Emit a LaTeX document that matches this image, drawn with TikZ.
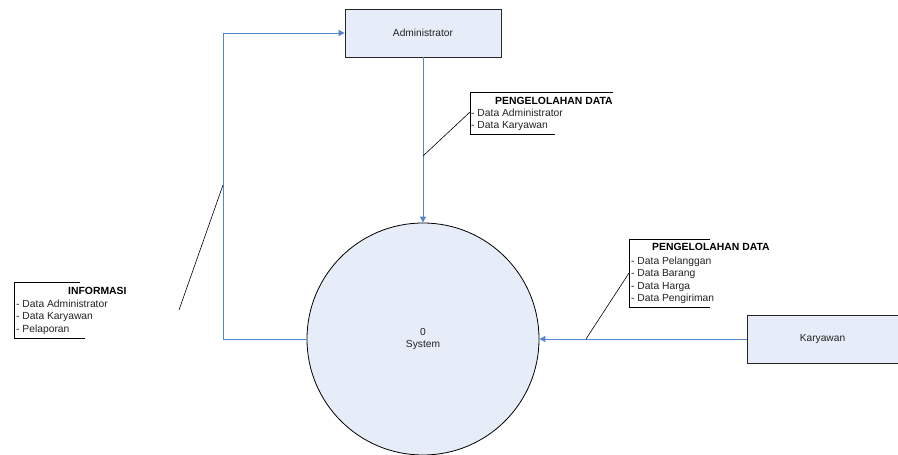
\documentclass[tikz,border=0pt]{standalone}
\usepackage{fontspec}
\setmainfont{Liberation Sans}
\usetikzlibrary{arrows.meta}
\definecolor{boxfill}{HTML}{E7EDF8}
\definecolor{flowblue}{HTML}{5585CA}
\definecolor{txt}{HTML}{222222}
\tikzset{
  entity/.style={draw=black!85, line width=0.8pt, fill=boxfill, rectangle, minimum width=156pt, minimum height=48pt, inner sep=0pt, text=txt, font=\fontsize{10.2}{12}\selectfont},
  proc/.style={draw=black, line width=0.8pt, fill=boxfill, circle, minimum size=232pt, inner sep=0pt, align=center, text=txt, font=\fontsize{10.2}{12.8}\selectfont},
  flow/.style={draw=flowblue, line width=0.9pt, -{Triangle[width=6pt,length=6pt]}},
  note/.style={line width=0.6pt, draw=black},
  lbl/.style={anchor=base west, inner sep=0pt, text=txt, font=\fontsize{10.3}{12}\selectfont},
  hdr/.style={anchor=base west, inner sep=0pt, text=black, font=\fontsize{10.4}{12}\selectfont\bfseries},
}
\begin{document}
\begin{tikzpicture}[x=1pt,y=-1pt]
\useasboundingbox (0,0) rectangle (898,455);
% entities and process
\node[entity] (admin) at (423,33) {Administrator};
\node[entity, minimum width=151pt] (kary) at (822.5,339) {Karyawan};
\node[proc] (sys) at (423,339) {0\\System};
% flows
\coordinate (lc) at (223,339);
\draw[flow] (admin.south) -- (sys.north);
\draw[flow] (kary.west) -- (sys.east);
\draw[flow] (sys.west) -- (lc) |- (admin.west);
% points on flows
\coordinate (f1) at (423,156);
\coordinate (f2) at (586,339);
\coordinate (f3) at (223,185);
\coordinate (f3end) at (179,310);
% annotation 1
\coordinate (a1) at (470,112);
\draw[note] (613,92) -- (470,92) -- (470,134) -- (555,134);
\node[hdr] (h1) at (495,104) {PENGELOLAHAN DATA};
\node[lbl] (h1a) at (471,116) {- Data Administrator};
\node[lbl] (h1b) at (471,128) {- Data Karyawan};
\draw[note] (a1) -- (f1);
% annotation 2
\coordinate (a2) at (629,273);
\draw[note] (710,239) -- (629,239) -- (629,307) -- (710,307);
\node[hdr] (h2) at (652,250) {PENGELOLAHAN DATA};
\node[lbl] (h2a) at (631,264) {- Data Pelanggan};
\node[lbl] (h2b) at (631,276.5) {- Data Barang};
\node[lbl] (h2c) at (631,289) {- Data Harga};
\node[lbl] (h2d) at (631,301.5) {- Data Pengiriman};
\draw[note] (a2) -- (f2);
% annotation 3
\draw[note] (80,282) -- (14,282) -- (14,338) -- (85,338);
\node[hdr] (h3) at (68,294) {INFORMASI};
\node[lbl] (h3a) at (16,307) {- Data Administrator};
\node[lbl] (h3b) at (16,319.5) {- Data Karyawan};
\node[lbl] (h3c) at (16,332) {- Pelaporan};
\draw[note] (f3) -- (f3end);
\end{tikzpicture}
\end{document}
